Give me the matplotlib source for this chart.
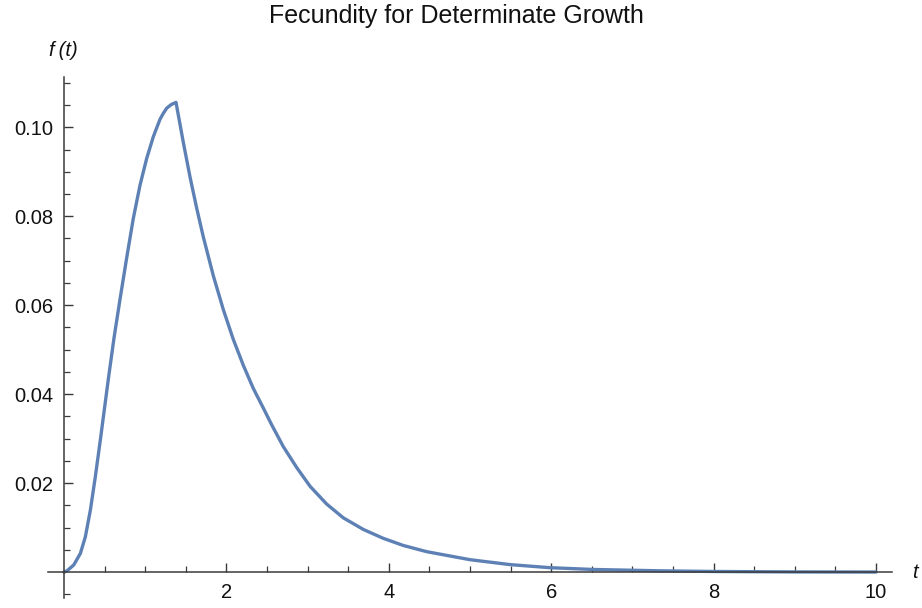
import matplotlib
matplotlib.use("Agg")
import matplotlib.pyplot as plt
from matplotlib.ticker import FixedLocator

# data
t_vals = [0, 0.037, 0.119, 0.201, 0.262, 0.324, 0.385, 0.447, 0.501, 0.550, 0.616,
          0.690, 0.772, 0.853, 0.936, 1.018, 1.100, 1.182, 1.225, 1.265, 1.320,
          1.379, 1.425, 1.469,
          1.552, 1.634, 1.716, 1.839, 1.962, 2.085, 2.208, 2.331, 2.454, 2.558,
          2.701, 2.866, 3.030, 3.235, 3.440, 3.686, 3.932, 4.178, 4.467, 5.0,
          5.49, 5.985, 6.52, 7.34, 8.0, 9.0, 10.0]
f_vals = [0, 0.0003, 0.0016, 0.0042, 0.0079, 0.0139, 0.0214, 0.0297, 0.0372, 0.0440,
          0.0527, 0.0614, 0.0707, 0.0795, 0.0870, 0.0930, 0.0979, 0.1018, 0.1032,
          0.1043, 0.1051, 0.1056, 0.1010, 0.0966, 0.0888, 0.0818, 0.0753, 0.0666,
          0.0590, 0.0523, 0.0465, 0.0413, 0.0369, 0.0331, 0.0282, 0.0235, 0.0193,
          0.0153, 0.0122, 0.0096, 0.0076, 0.0060, 0.0046, 0.0028, 0.0017, 0.0010,
          0.0006, 0.0003, 0.00015, 0.00005, 0.00002]
x_ticks = [2, 4, 6, 8, 10]
x_ticklabels = ["2", "4", "6", "8", "10"]
y_ticks = [0.02, 0.04, 0.06, 0.08, 0.10]
y_ticklabels = ["0.02", "0.04", "0.06", "0.08", "0.10"]
title = "Fecundity for Determinate Growth"

plt.rcParams['font.family'] = ['Liberation Sans', 'DejaVu Sans']

W, H = 922, 608
fig = plt.figure(figsize=(W / 100, H / 100), dpi=100)
ax = fig.add_axes([47.8 / W, (H - 597.5) / H, 844.4 / W, (597.5 - 77) / H])
ax.set_xlim(-0.2, 10.2)
ax.set_ylim(-0.0057, 0.1113)

ax.plot(t_vals, f_vals, color="#5E81B5", lw=2.4, solid_joinstyle="round",
        solid_capstyle="round", clip_on=False)

axis_color = "#3a3a3a"
for s in ["top", "right"]:
    ax.spines[s].set_visible(False)
ax.spines["left"].set_position(("data", 0))
ax.spines["bottom"].set_position(("data", 0))
for s in ["left", "bottom"]:
    ax.spines[s].set_color(axis_color)
    ax.spines[s].set_linewidth(1.1)

ax.xaxis.set_major_locator(FixedLocator(x_ticks))
ax.set_xticklabels(x_ticklabels)
ax.xaxis.set_minor_locator(FixedLocator([i * 0.5 for i in range(1, 21) if i % 4 != 0]))
ax.yaxis.set_major_locator(FixedLocator(y_ticks))
ax.set_yticklabels(y_ticklabels)
ax.yaxis.set_minor_locator(FixedLocator([-0.005] + [0.005 * i for i in range(1, 23) if i % 4 != 0]))

ax.tick_params(axis="both", which="major", direction="in", length=6.5, width=1.0,
               color=axis_color, labelsize=14.5, labelcolor="#111111", pad=8)
ax.tick_params(axis="both", which="minor", direction="in", length=4.2, width=0.9,
               color=axis_color)

fig.text(0.5 * (263 + 649) / W, 1 - 16 / H, title, ha="center", va="center",
         fontsize=18, color="#111111")

fig.text(63 / W, 1 - 50 / H, "f\u2009(t)", ha="center", va="center", fontsize=14.5,
         style="italic", color="#111111")
fig.text(915 / W, 1 - 572 / H, "t", ha="center", va="center", fontsize=14.5,
         style="italic", color="#111111")

fig.savefig("out.png", dpi=100)
